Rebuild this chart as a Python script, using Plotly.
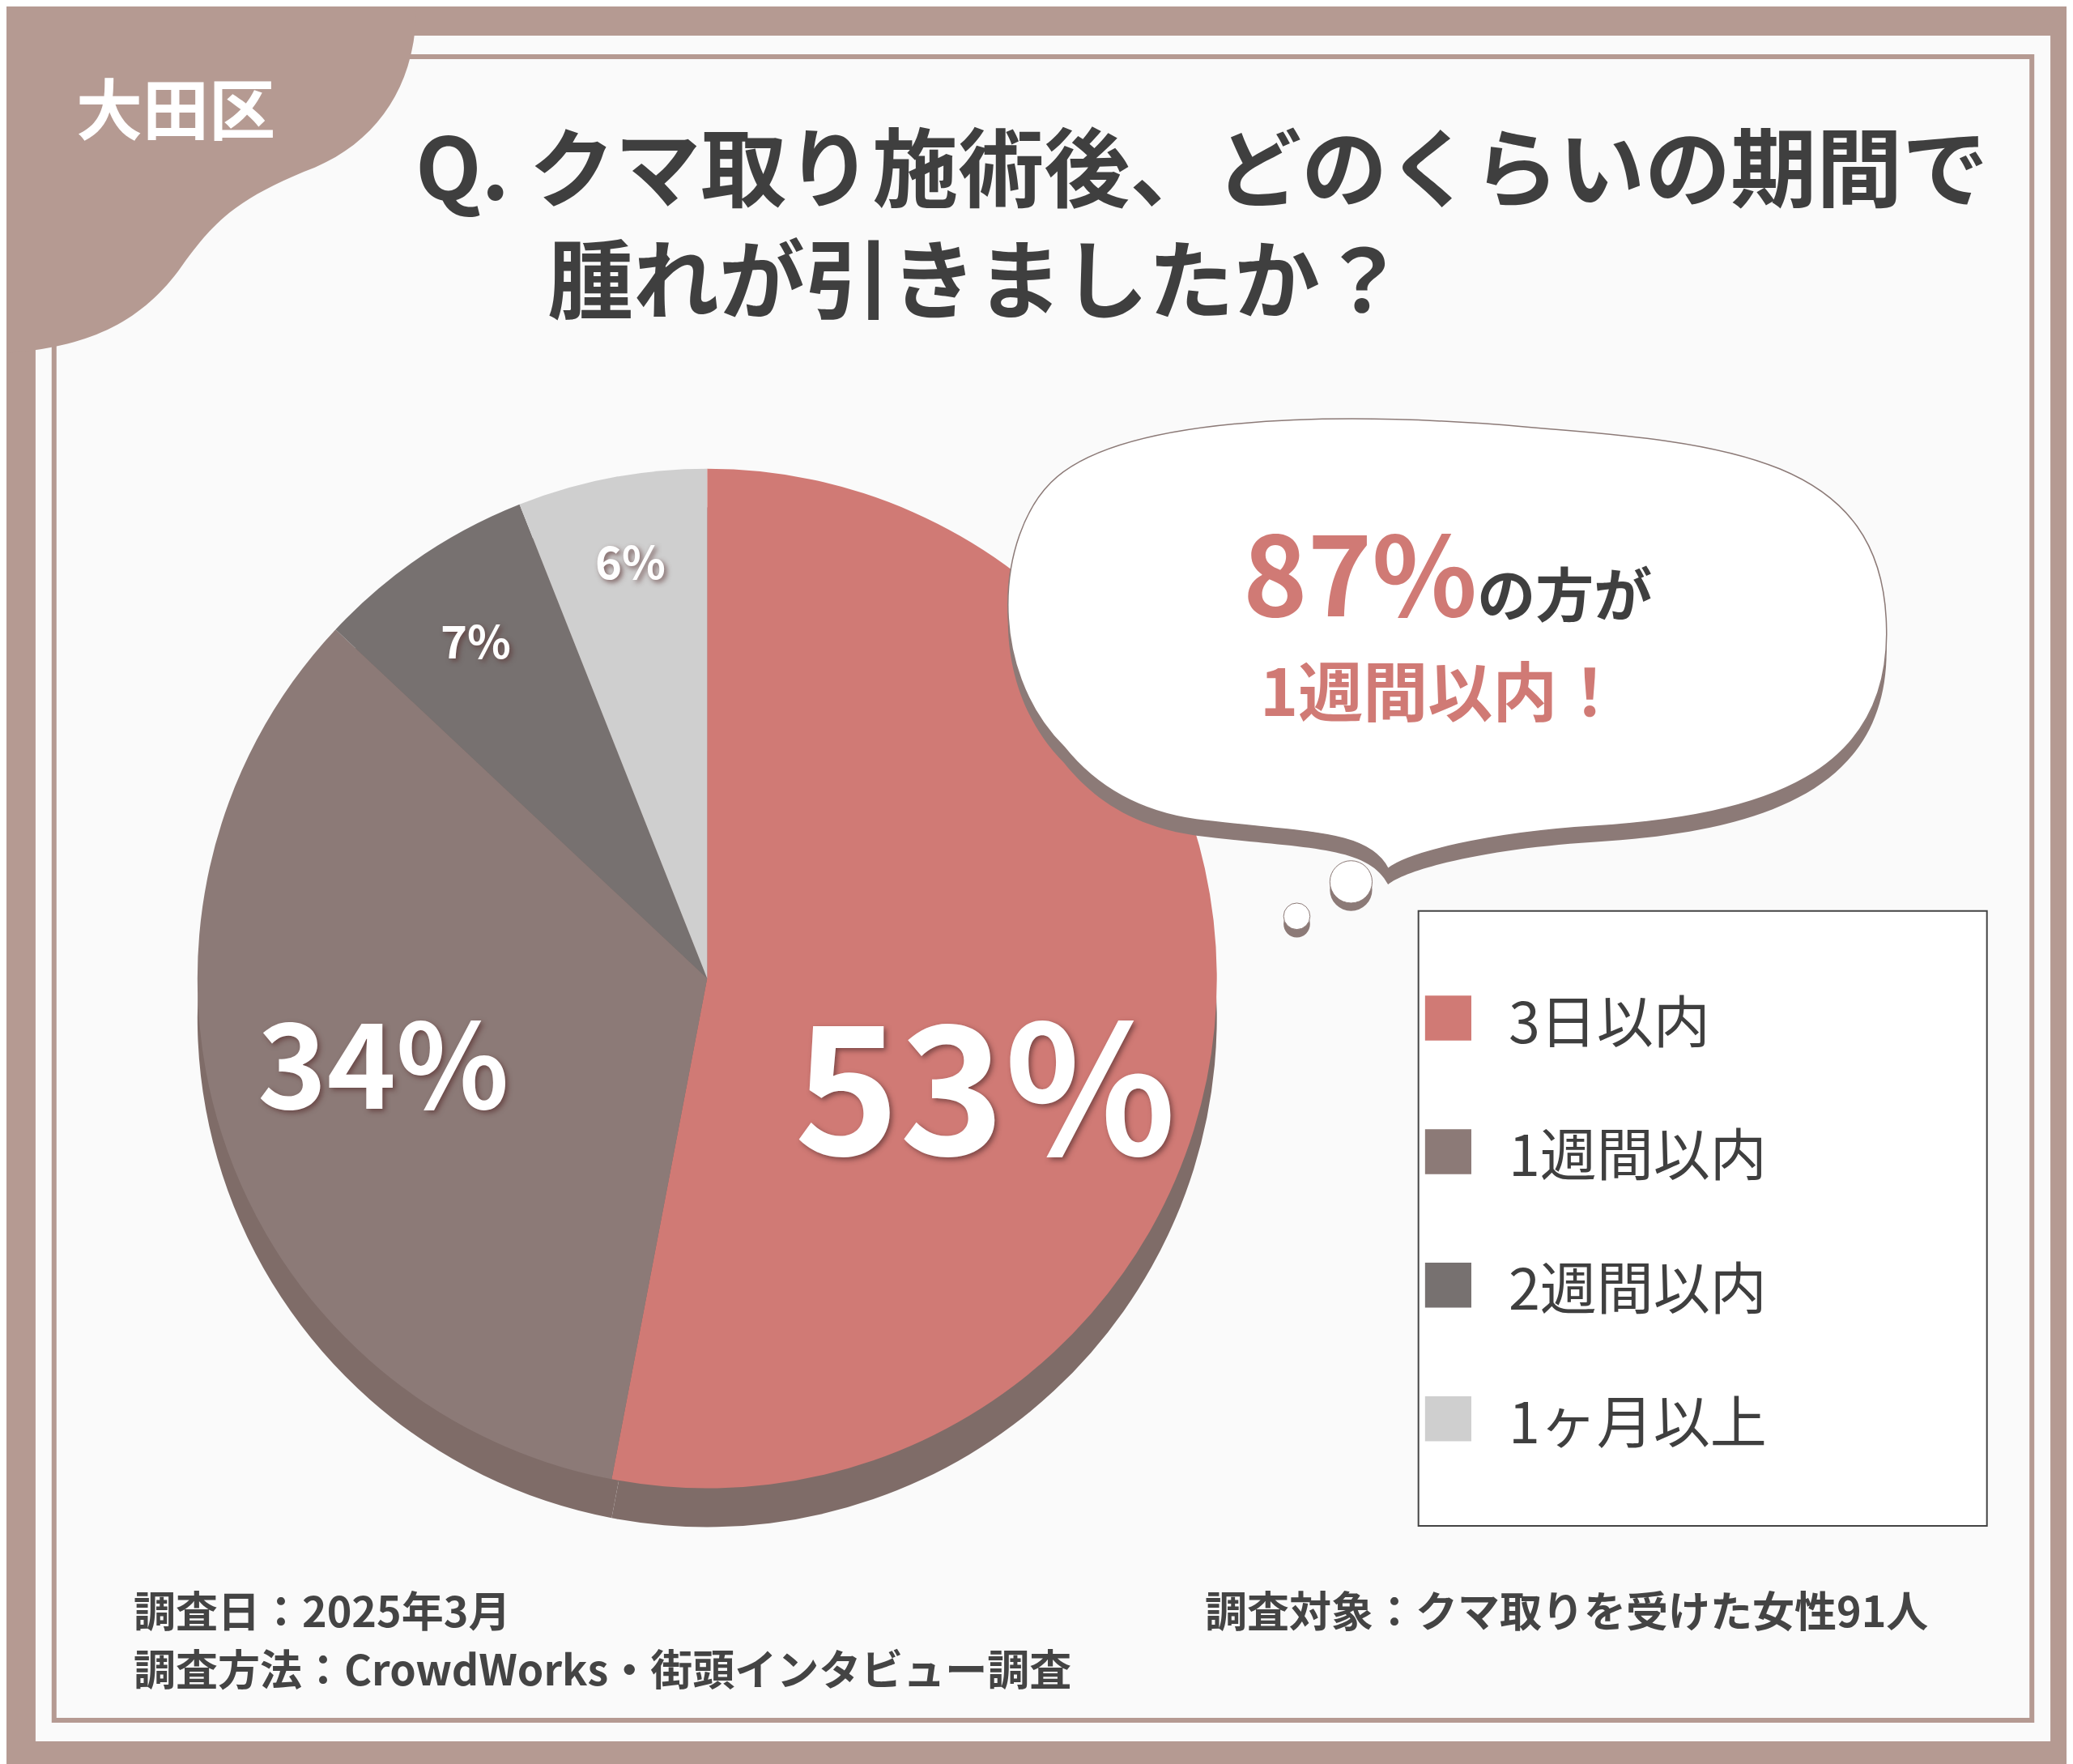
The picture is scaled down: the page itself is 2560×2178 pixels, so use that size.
import plotly.graph_objects as go

categories = ["3日以内", "1週間以内", "2週間以内", "1ヶ月以上"]
values = [53, 34, 7, 6]
colors = ["#d07a75", "#8c7a77", "#777170", "#cfcfcf"]

W, H = 1568, 1334
def px(x): return x / W
def py(y): return 1 - y / H
def path(cmds):
    out = []
    for c in cmds:
        if isinstance(c, str):
            out.append(c)
        else:
            out.append(f"{px(c[0]):.5f},{py(c[1]):.5f}")
    return " ".join(out)

FONT = "Noto Sans CJK JP"
fig = go.Figure()
fig.add_trace(go.Pie(values=values, marker=dict(colors=["#7f6c68"] * 4, line=dict(width=0)),
                     sort=False, direction="clockwise", rotation=0, textinfo="none",
                     hoverinfo="skip", showlegend=False,
                     domain=dict(x=[0.092, 0.584], y=[0.138, 0.716])))
fig.add_trace(go.Pie(values=values, labels=categories, marker=dict(colors=colors, line=dict(width=0)),
                     sort=False, direction="clockwise", rotation=0, textinfo="none",
                     showlegend=False, domain=dict(x=[0.092, 0.584], y=[0.16, 0.738])))

shapes = [
    dict(type="rect", xref="paper", yref="paper", x0=px(22), x1=px(1546), y0=py(1312), y1=py(22),
         fillcolor="#fafafa", line=dict(width=0), layer="below"),
    dict(type="rect", xref="paper", yref="paper", x0=px(36), x1=px(1532), y0=py(1296), y1=py(38),
         fillcolor="rgba(0,0,0,0)", line=dict(color="#b59a92", width=6), layer="below"),
    dict(type="path", xref="paper", yref="paper", fillcolor="#b59a92", line=dict(width=0),
         path=path(["M", (0, 0), "L", (310, 0), "C", (310, 60), (280, 105), (225, 125),
                    "C", (170, 148), (155, 165), (130, 200), "C", (100, 240), (60, 258), (0, 262), "Z"])),
]
bubble = ["M", (800, 560), "C", (740, 500), (750, 400), (790, 360), "C", (840, 310), (1000, 305), (1150, 318),
          "C", (1300, 330), (1420, 340), (1422, 470), "C", (1425, 580), (1330, 612), (1200, 620),
          "C", (1120, 625), (1060, 640), (1045, 652), "C", (1030, 622), (980, 625), (900, 615),
          "C", (850, 608), (820, 585), (800, 560), "Z"]
shadow = [c if isinstance(c, str) else (c[0], c[1] + 12) for c in bubble]
shapes.append(dict(type="path", xref="paper", yref="paper", path=path(shadow), fillcolor="#8c7a77", line=dict(width=0)))
shapes.append(dict(type="path", xref="paper", yref="paper", path=path(bubble), fillcolor="#ffffff", line=dict(color="#8c7a77", width=1.5)))
for cx, cy, r in [(1017, 662, 16), (976, 688, 10)]:
    shapes.append(dict(type="circle", xref="paper", yref="paper", x0=px(cx - r), x1=px(cx + r),
                       y0=py(cy + r + 6), y1=py(cy - r + 6), fillcolor="#8c7a77", line=dict(width=0)))
    shapes.append(dict(type="circle", xref="paper", yref="paper", x0=px(cx - r), x1=px(cx + r),
                       y0=py(cy + r), y1=py(cy - r), fillcolor="#ffffff", line=dict(color="#8c7a77", width=1)))
shapes.append(dict(type="rect", xref="paper", yref="paper", x0=px(1068), x1=px(1498), y0=py(1149), y1=py(684),
                   fillcolor="#ffffff", line=dict(color="#444444", width=2)))
ann = []
for i, (cat, col) in enumerate(zip(categories, colors)):
    yc = 765 + i * 101
    shapes.append(dict(type="rect", xref="paper", yref="paper", x0=px(1073), x1=px(1108),
                       y0=py(yc + 17), y1=py(yc - 17), fillcolor=col, line=dict(width=0)))
    ann.append(dict(x=px(1135), y=py(yc), text=cat, xanchor="left", yanchor="middle",
                    font=dict(size=70, color="#3f3f3f", family=FONT)))

def A(x, y, text, size, color, xa="center", shadow="none", weight="bold"):
    ann.append(dict(x=px(x), y=py(y), text=text, xanchor=xa, yanchor="middle", showarrow=False,
                    font=dict(size=size, color=color, family=FONT, weight=weight, shadow=shadow)))

A(128, 75, "大田区", 82, "#ffffff")
A(308, 118, "Q. クマ取り施術後、どのくらいの期間で", 106, "#3f3f3f", "left")
A(408, 203, "腫れが引きましたか？", 106, "#3f3f3f", "left")
sh = "3px 3px 6px rgba(90,50,50,0.7)"
pos = [(740, 810, 220), (285, 795, 145), (355, 478, 56), (472, 418, 56)]
for v, (x, y, s) in zip(values, pos):
    A(x, y, f"{v}%", s, "#ffffff", shadow=sh)
A(1090, 425, "<span style='color:#d07a75;font-size:135px'>87%</span>"
             "<span style='color:#3f3f3f;font-size:72px'>の方が</span>", 72, "#3f3f3f")
A(1085, 515, "1週間以内！", 80, "#d07a75")
A(95, 1212, "調査日：2025年3月", 52, "#444444", "left")
A(95, 1256, "調査方法：CrowdWorks・街頭インタビュー調査", 52, "#444444", "left")
A(905, 1212, "調査対象：クマ取りを受けた女性91人", 52, "#444444", "left")
for a in ann:
    a["showarrow"] = False
    a["xref"] = "paper"; a["yref"] = "paper"

fig.update_layout(width=2560, height=2178, paper_bgcolor="#b59a92", plot_bgcolor="#b59a92",
                  margin=dict(l=0, r=0, t=0, b=0), shapes=shapes, annotations=ann,
                  font=dict(family=FONT))
fig.write_html("out.html")
